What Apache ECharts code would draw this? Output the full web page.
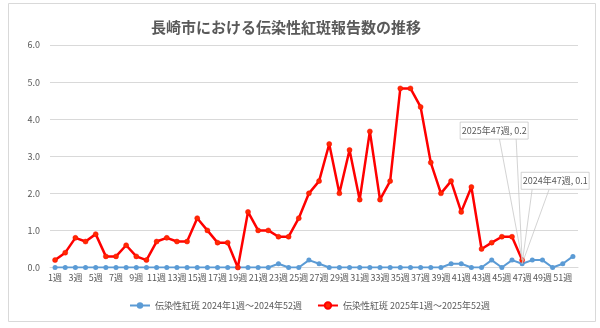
<!DOCTYPE html>
<html>
<head>
<meta charset="utf-8">
<script src="https://cdn.jsdelivr.net/npm/echarts@6/dist/echarts.min.js"></script>
<style>
  html, body { margin: 0; padding: 0; background: #fff; }
  #chart { width: 600px; height: 328px; }
</style>
</head>
<body>
<div id="chart"></div>
<script>
// Week categories 1週 … 52週
const weeks = [];
for (let w = 1; w <= 52; w++) weeks.push(w + '週');

// Sentinel-average reports per week, 2024 (full year)
const cases2024 = [
  0, 0, 0, 0, 0, 0, 0, 0, 0, 0,
  0, 0, 0, 0, 0, 0, 0, 0, 0, 0,
  0, 0, 0.1, 0, 0, 0.2, 0.1, 0, 0, 0,
  0, 0, 0, 0, 0, 0, 0, 0, 0, 0.1,
  0.1, 0, 0, 0.2, 0, 0.2, 0.1, 0.2, 0.2, 0,
  0.1, 0.3
];

// Sentinel-average reports per week, 2025 (through week 47)
const cases2025 = [
  0.2, 0.4, 0.8, 0.7, 0.9, 0.3, 0.3, 0.6, 0.3, 0.2,
  0.7, 0.8, 0.7, 0.7, 1.33, 1.0, 0.67, 0.67, 0, 1.5,
  1.0, 1.0, 0.83, 0.83, 1.33, 2.0, 2.33, 3.33, 2.0, 3.17,
  1.83, 3.67, 1.83, 2.33, 4.83, 4.83, 4.33, 2.83, 2.0, 2.33,
  1.5, 2.17, 0.5, 0.67, 0.83, 0.83, 0.2
];

const yTicks = { min: 0, max: 6, step: 1 };

const seriesNames = [
  '伝染性紅斑 2024年1週～2024年52週',
  '伝染性紅斑 2025年1週～2025年52週'
];

const FONT = '"Noto Sans CJK JP", "Noto Sans", sans-serif';
const TEXT = '#595959';
const GRID = '#d9d9d9';

const chart = echarts.init(document.getElementById('chart'), null, { renderer: 'canvas' });

chart.setOption({
  animation: false,
  backgroundColor: '#fff',
  textStyle: { fontFamily: FONT },
  title: {
    text: '長崎市における伝染性紅斑報告数の推移',
    left: 146, top: 15,
    textStyle: { fontFamily: FONT, fontSize: 15, fontWeight: 'bold', color: TEXT }
  },
  grid: { left: 50, right: 22, top: 45, bottom: 60.5 },
  legend: {
    bottom: 13, left: 124,
    itemWidth: 20, itemHeight: 8, itemGap: 15,
    textStyle: { fontFamily: FONT, fontSize: 9, color: TEXT },
    data: seriesNames
  },
  xAxis: {
    type: 'category',
    data: weeks,
    boundaryGap: true,
    axisLine: { lineStyle: { color: GRID } },
    axisTick: { show: false },
    axisLabel: { interval: 1, fontSize: 9, color: TEXT, margin: 6, fontFamily: FONT }
  },
  yAxis: {
    type: 'value',
    min: yTicks.min, max: yTicks.max, interval: yTicks.step,
    axisLine: { show: false },
    axisTick: { show: false },
    axisLabel: { fontSize: 9, color: TEXT, margin: 10, fontFamily: FONT,
                 formatter: v => v.toFixed(1) },
    splitLine: { lineStyle: { color: GRID, width: 1 } }
  },
  series: [
    {
      name: seriesNames[0], type: 'line', data: cases2024,
      symbol: 'circle', symbolSize: 5,
      itemStyle: { color: '#5b9bd5' },
      lineStyle: { color: '#5b9bd5', width: 2 },
      z: 2
    },
    {
      name: seriesNames[1], type: 'line', data: cases2025,
      symbol: 'circle', symbolSize: 5,
      itemStyle: { color: '#ff2a00', borderColor: '#ff0000', borderWidth: 0.5 },
      lineStyle: { color: '#ff0000', width: 2.5 },
      z: 3
    }
  ]
});

// Data callouts for week 47 of each year, anchored on the plotted point.
function callout(seriesIndex, values, dx, dy, baseA, baseB) {
  const idx = 46;
  const v = values[idx];
  const p = chart.convertToPixel({ seriesIndex: seriesIndex }, [idx, v]);
  const year = seriesIndex === 0 ? '2024' : '2025';
  const text = year + '年47週, ' + v.toFixed(1);
  const w = 68, h = 17;
  const x = p[0] + dx, y = p[1] + dy;
  return [
    {
      type: 'polyline', z: 50, silent: true,
      shape: { points: [[p[0] + baseA, y + h], [p[0], p[1]], [p[0] + baseB, y + h]] },
      style: { stroke: '#c8c8c8', lineWidth: 0.8, fill: null }
    },
    {
      type: 'rect', z: 51, silent: true,
      shape: { x: x, y: y, width: w, height: h },
      style: { fill: '#fff', stroke: '#c8c8c8', lineWidth: 0.8 }
    },
    {
      type: 'text', z: 52, silent: true,
      x: x + w / 2, y: y + h / 2,
      style: { text: text, fontFamily: FONT, fontSize: 9, fill: TEXT,
               align: 'center', verticalAlign: 'middle' }
    }
  ];
}

chart.setOption({
  graphic: [
    // outer chart-area frame
    { type: 'rect', z: 0, silent: true,
      shape: { x: 8.5, y: 3.5, width: 587, height: 318 },
      style: { fill: null, stroke: '#d9d9d9', lineWidth: 1 } }
  ].concat(
    callout(1, cases2025, -62, -138, -22.7, -6),
    callout(0, cases2024, -1, -91.5, 10, 27)
  )
});
</script>
</body>
</html>
